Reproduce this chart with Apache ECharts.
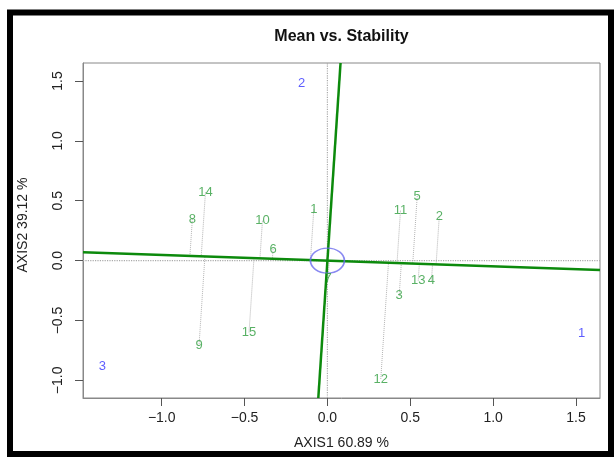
<!DOCTYPE html>
<html>
<head>
<meta charset="utf-8">
<script src="https://cdn.jsdelivr.net/npm/echarts@6/dist/echarts.min.js"></script>
<style>html,body{margin:0;padding:0;background:#fff}#c{width:614px;height:457px}</style>
</head>
<body>
<div id="c"></div>
<script>
// ---- data ----
const genoNames = ['1','2','3','4','5','6','7','8','9','10','11','12','13','14','15'];
const genoX = [-0.082, 0.675, 0.433, 0.628, 0.542, -0.328, 0.004, -0.815, -0.775, -0.392, 0.441, 0.322, 0.548, -0.736, -0.473];
const genoY = [0.428, 0.367, -0.294, -0.167, 0.539, 0.095, -0.147, 0.348, -0.711, 0.333, 0.417, -0.988, -0.167, 0.570, -0.600];
const envNames = ['1','2','3'];
const envX = [1.534, -0.155, -1.358];
const envY = [-0.605, 1.483, -0.883];
const atcSlope = -0.048;           // direction of the average-environment axis (1, slope)
const xTicks = [-1.0, -0.5, 0.0, 0.5, 1.0, 1.5];
const yTicks = [-1.0, -0.5, 0.0, 0.5, 1.0, 1.5];
const xRange = [-1.475, 1.645];
const yRange = [-1.147, 1.65];
const titleText = 'Mean vs. Stability';
const xTitle = 'AXIS1 60.89 %';
const yTitle = 'AXIS2 39.12 %';

// ---- derived ----
const s = atcSlope;
const proj = genoNames.map((n, i) => {
  const t = (genoX[i] + s * genoY[i]) / (1 + s * s);
  return { coords: [[genoX[i], genoY[i]], [t, t * s]] };
});
const fmt = v => (Math.round(v * 10) / 10).toFixed(1).replace('-', '\u2212');
const FONT = '"Liberation Sans", Arial, Helvetica, sans-serif';
const LINEGREEN = '#0c8a0c';
const TXTGREEN = '#2f9e3f';
const BLUE = '#3434ff';

const chart = echarts.init(document.getElementById('c'), null, {renderer: 'canvas'});
chart.setOption({
  animation: false,
  backgroundColor: '#fff',
  textStyle: {fontFamily: FONT},
  grid: {left: 83, right: 14, top: 63, bottom: 59, show: true, borderColor: '#888', borderWidth: 1, containLabel: false, outerBoundsMode: 'none'},
  xAxis: {
    type: 'value', min: xRange[0], max: xRange[1],
    splitLine: {show: false},
    axisLine: {show: true, onZero: false, lineStyle: {color: '#888', width: 1}},
    axisTick: {show: true, customValues: xTicks, length: 8, lineStyle: {color: '#555'}},
    axisLabel: {customValues: xTicks, formatter: fmt, margin: 13, fontSize: 14, color: '#222', fontFamily: FONT}
  },
  yAxis: {
    type: 'value', min: yRange[0], max: yRange[1],
    splitLine: {show: false},
    axisLine: {show: true, onZero: false, lineStyle: {color: '#888', width: 1}},
    axisTick: {show: true, customValues: yTicks, length: 8, lineStyle: {color: '#555'}},
    axisLabel: {customValues: yTicks, formatter: fmt, margin: 18, fontSize: 14, color: '#222', rotate: 90, fontFamily: FONT}
  },
  graphic: [
    {type: 'rect', shape: {x: 10, y: 12.5, width: 601, height: 441.5}, style: {fill: 'none', stroke: '#000', lineWidth: 6}, silent: true},
    {type: 'text', x: 341.5, y: 37, style: {text: titleText, fontSize: 16, fontWeight: 'bold', fill: '#111', align: 'center', verticalAlign: 'middle', fontFamily: FONT}},
    {type: 'text', x: 341.5, y: 443, style: {text: xTitle, fontSize: 14, fill: '#222', align: 'center', verticalAlign: 'middle', fontFamily: FONT}},
    {type: 'text', x: 23, y: 225, rotation: Math.PI / 2, style: {text: yTitle, fontSize: 14, fill: '#222', align: 'center', verticalAlign: 'middle', fontFamily: FONT}}
  ],
  series: [
    {type: 'line', data: [[xRange[0], 0], [xRange[1], 0]], symbol: 'none', silent: true,
     lineStyle: {color: '#aaa', width: 1.2, type: 'dotted'}, z: 1},
    {type: 'line', data: [[0, yRange[0]], [0, yRange[1]]], symbol: 'none', silent: true,
     lineStyle: {color: '#aaa', width: 1.2, type: 'dotted'}, z: 1},
    {type: 'lines', coordinateSystem: 'cartesian2d', data: proj, silent: true,
     lineStyle: {color: '#b5b5b5', width: 1, type: 'dotted', opacity: 1}, z: 2},
    {type: 'line', data: [[xRange[0], s * xRange[0]], [xRange[1], s * xRange[1]]], symbol: 'none', silent: true,
     lineStyle: {color: LINEGREEN, width: 2.5}, z: 3},
    {type: 'line', data: [[-s * yRange[0], yRange[0]], [-s * yRange[1], yRange[1]]], symbol: 'none', silent: true,
     lineStyle: {color: LINEGREEN, width: 2.5}, z: 3},
    {type: 'scatter', data: [[0, 0]], symbol: 'circle', symbolSize: [34, 25], silent: true,
     itemStyle: {color: 'none', borderColor: '#6b6bee', borderWidth: 1.5}, z: 4},
    {type: 'scatter', silent: true, z: 5,
     data: genoNames.map((n, i) => ({name: n, value: [genoX[i], genoY[i]]})),
     symbol: 'circle', symbolSize: 1, itemStyle: {color: 'rgba(0,0,0,0)'},
     label: {show: true, position: 'inside', formatter: '{b}', color: TXTGREEN, fontSize: 13, fontFamily: FONT}},
    {type: 'scatter', silent: true, z: 5,
     data: envNames.map((n, i) => ({name: n, value: [envX[i], envY[i]]})),
     symbol: 'circle', symbolSize: 1, itemStyle: {color: 'rgba(0,0,0,0)'},
     label: {show: true, position: 'inside', formatter: '{b}', color: BLUE, fontSize: 13, fontFamily: FONT}}
  ]
});
</script>
</body>
</html>
